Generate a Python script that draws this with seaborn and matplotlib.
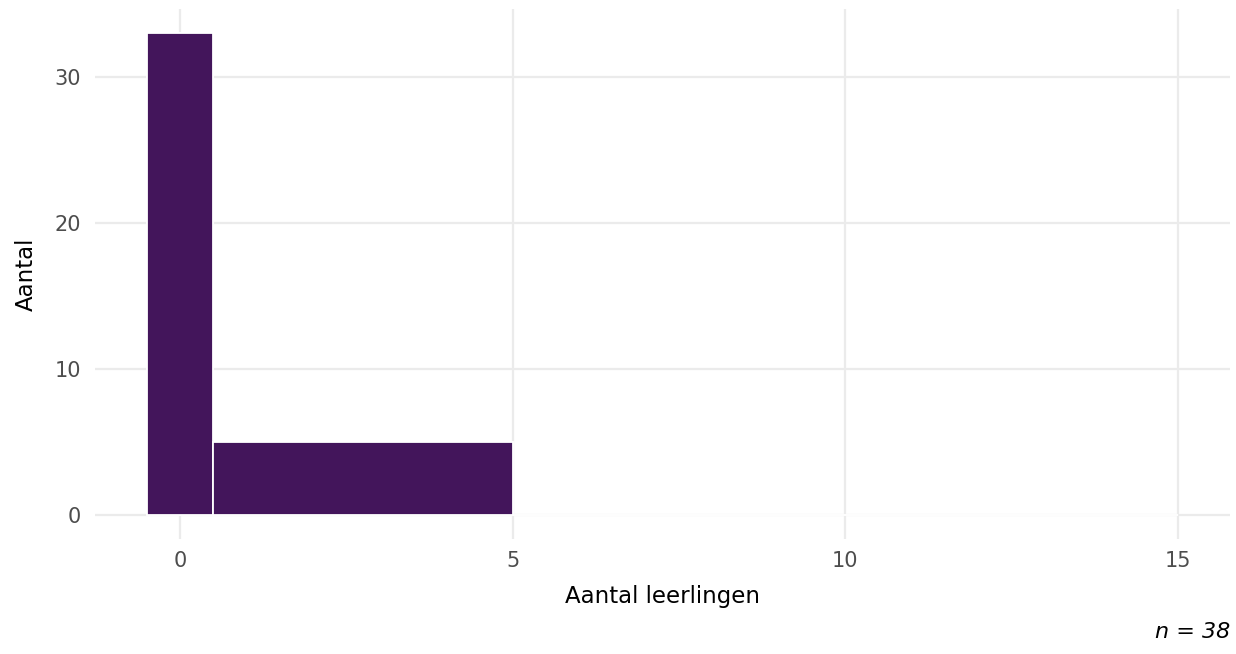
import numpy as np
import matplotlib
matplotlib.use("Agg")
import matplotlib.pyplot as plt
import seaborn as sns

# histogram bins (edges) and counts per bin
bin_edges = [-0.5, 0.5, 5, 15]
bin_mids = [0, 2.75, 10]
counts = [33, 5, 0]
x_ticks = [0, 5, 10, 15]
y_ticks = [0, 10, 20, 30]
n_total = sum(counts)

sns.set_theme(style="white")
plt.rcParams['font.family'] = ['DejaVu Sans']

fig = plt.figure(figsize=(12.36, 6.54), dpi=100)
ax = fig.add_axes([0.0769, 0.176, 0.918, 0.810])

sns.histplot(x=bin_mids, weights=counts, bins=bin_edges, ax=ax,
             color="#43155B", alpha=1, edgecolor="white", linewidth=1.3)

ax.set_xlim(-1.275, 15.775)
ax.set_ylim(-1.65, 34.65)
ax.set_xticks(x_ticks)
ax.set_yticks(y_ticks)
ax.grid(True, color="#EBEBEB", linewidth=1.6)
ax.set_axisbelow(True)
for s in ax.spines.values():
    s.set_visible(False)
ax.tick_params(axis="both", length=0, labelsize=15, labelcolor="#4D4D4D")
ax.tick_params(axis="x", pad=9)
ax.tick_params(axis="y", pad=10)

ax.set_xlabel("Aantal leerlingen", fontsize=16.5, color="black", labelpad=10)
ax.set_ylabel("Aantal", fontsize=16.5, color="black", labelpad=12)

fig.text(0.995, 0.033, f"n = {n_total}", ha="right", va="center",
         fontsize=16, style="italic", color="black")

fig.savefig("out.png", dpi=100)
